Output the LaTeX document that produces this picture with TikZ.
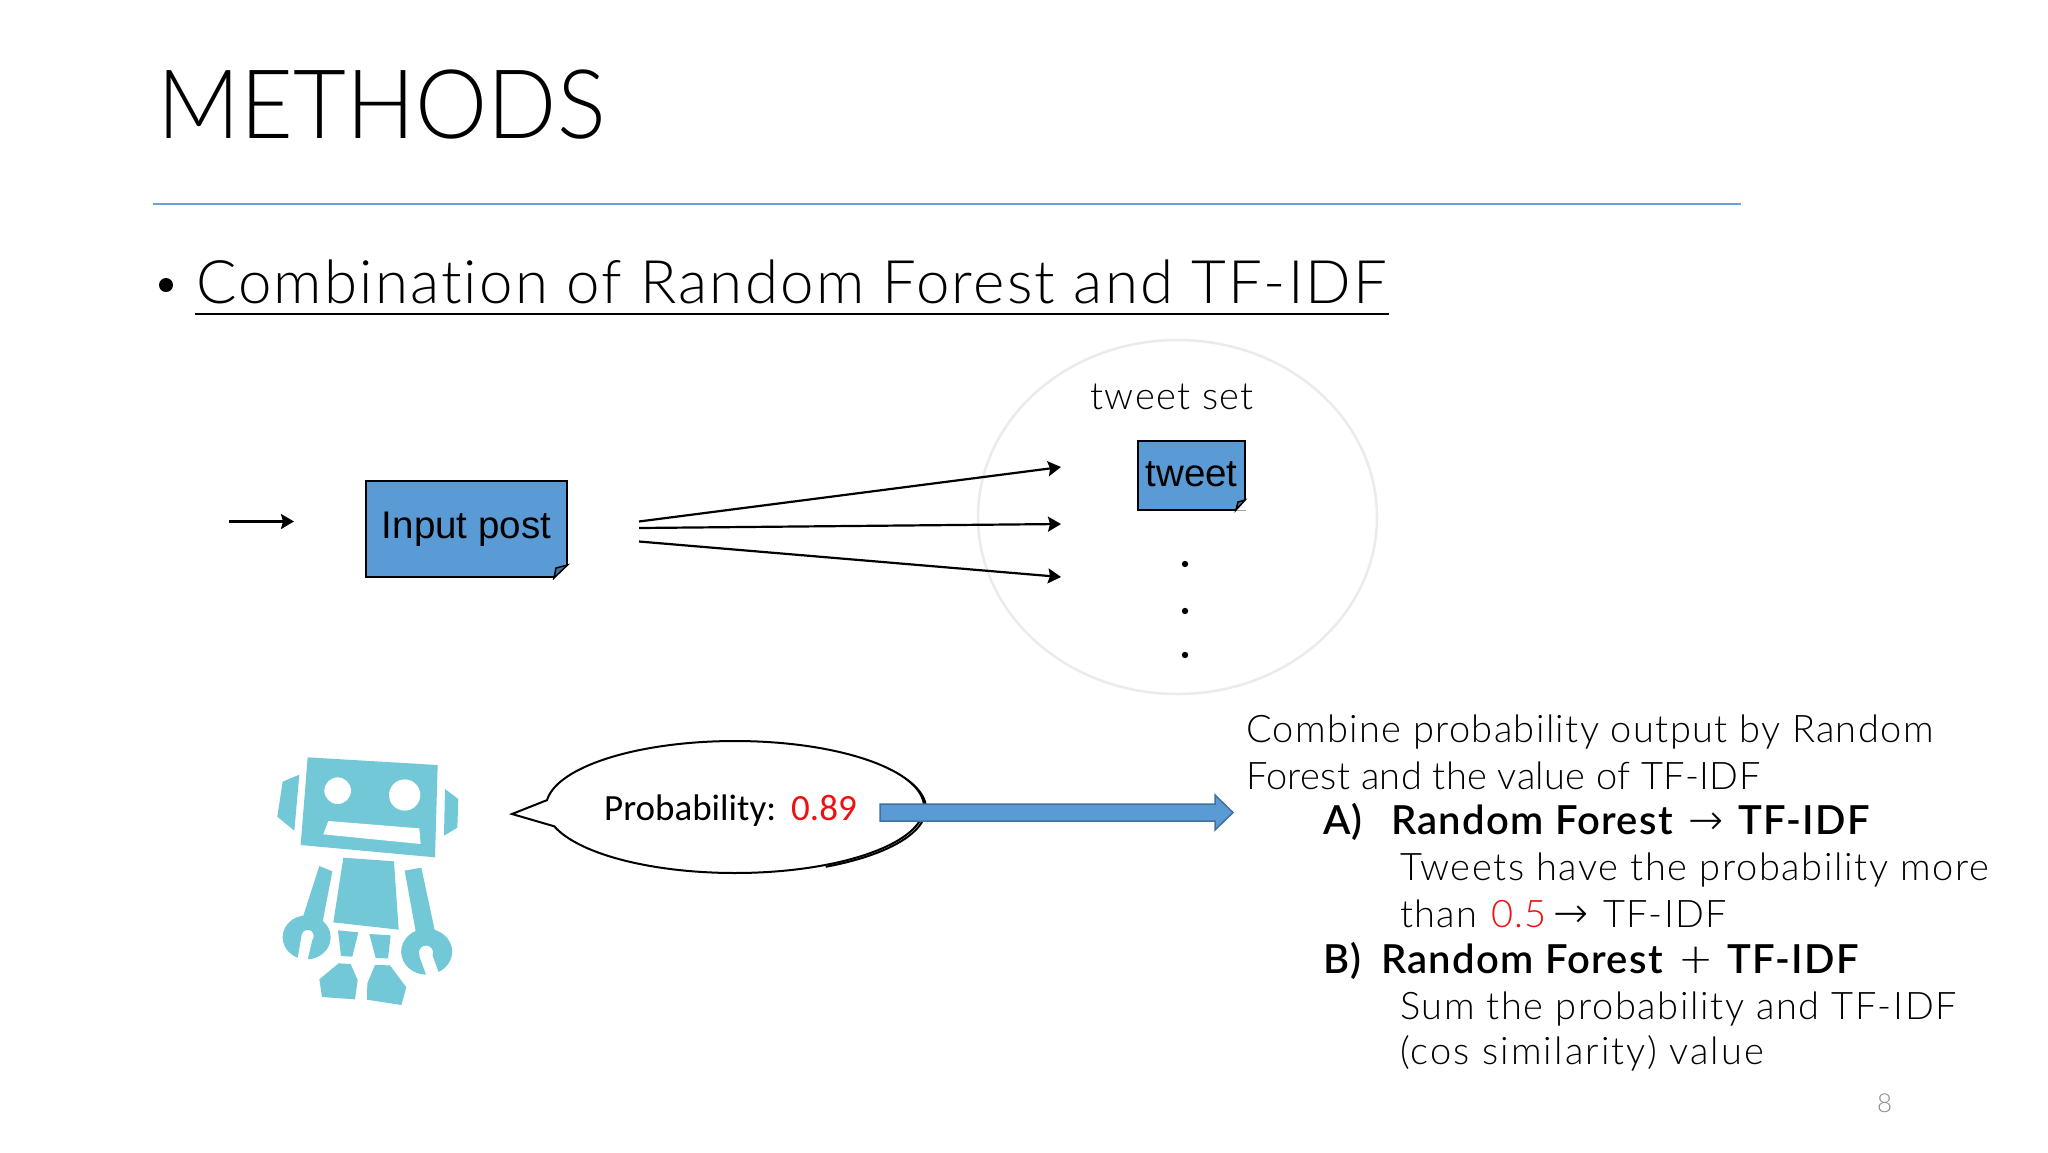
\documentclass[tikz,border=0pt]{standalone}
\usepackage{fontspec}
\usetikzlibrary{arrows.meta}
\setmainfont{Lato Light}
\newfontfamily\lt{Lato Light}[LetterSpace=3.6,Ligatures=NoCommon]
\newfontfamily\ltn{Lato Light}[LetterSpace=1.0,Ligatures=NoCommon]
\newfontfamily\ltw{Lato Light}[LetterSpace=4.3,Ligatures=NoCommon]
\newfontfamily\ltx{Lato Light}[LetterSpace=5.6,Ligatures=NoCommon]
\newfontfamily\ltt{Lato Light}[FakeStretch=0.95,LetterSpace=0.2]
\newfontfamily\ltb{Lato Semibold}[LetterSpace=3.3,Ligatures=NoCommon]
\newfontfamily\ar{Liberation Sans}
\newfontfamily\djv{DejaVu Sans ExtraLight}
\newfontfamily\cb{Carlito}
\definecolor{pblue}{HTML}{5B9BD5}
\definecolor{pedge}{HTML}{41719C}
\definecolor{rob}{HTML}{72C8D6}
\definecolor{rulec}{HTML}{6F9FD8}
\definecolor{pred}{HTML}{EE1111}
\tikzset{
  txt/.style={anchor=base west,inner sep=0pt,outer sep=0pt,font=\lt\fontsize{38}{38}\selectfont},
  txtn/.style={txt,font=\ltn\fontsize{38}{38}\selectfont},
  txtw/.style={txt,font=\ltw\fontsize{38}{38}\selectfont},
  txtx/.style={txt,font=\ltx\fontsize{38}{38}\selectfont},
  btxt/.style={anchor=base west,inner sep=0pt,outer sep=0pt,font=\ltb\fontsize{40}{40}\selectfont},
  sym/.style={anchor=base west,inner sep=0pt,outer sep=0pt,font=\djv\fontsize{42}{42}\selectfont},
  note/.style={draw=black,line width=2pt,fill=pblue,inner sep=0pt,outer sep=0pt,font=\ar\fontsize{38.5}{38.5}\selectfont},
  thin arrow/.style={draw=black,line width=2.2pt,-{Stealth[length=13pt,width=15pt,inset=2pt]}},
  rb/.style={fill=rob,draw=none},
  wh/.style={fill=white,draw=none}
}
\begin{document}
\begin{tikzpicture}[x=1pt,y=-1pt]
\useasboundingbox (0,0) rectangle (2048,1152);
\fill[white] (0,0) rectangle (2048,1152);

% title
\node[anchor=base west,inner sep=0pt,font=\ltt\fontsize{96}{96}\selectfont] (title) at (157,138) {METHODS};
\coordinate (ruleL) at (153,204); \coordinate (ruleR) at (1741,204);
\draw[rulec,line width=2pt] (ruleL) -- (ruleR);

% heading
\fill[black] (166,285) circle (7);
\node[anchor=base west,inner sep=0pt,font=\lt\fontsize{60}{60}\selectfont] (head) at (196,303) {Combination of Random Forest and TF-IDF};
\coordinate (ulL) at (195,314); \coordinate (ulR) at (1389,314);
\draw[black,line width=2pt] (ulL) -- (ulR);

% tweet-set ellipse
\draw[black!8,line width=2.5pt] (1177.5,517) ellipse [x radius=199.5pt,y radius=177pt];
\node[anchor=base,inner sep=0pt,font=\lt\fontsize{38}{38}\selectfont] (tset) at (1172,409) {tweet set};

% input post
\coordinate (small0) at (229,521.5); \coordinate (small1) at (294,521.5);
\draw[thin arrow] (small0) -- (small1);
\node[note,minimum width=201pt,minimum height=96pt] (input) at (466.5,529) {\raisebox{1pt}{Input post}};
\fill[white] (554,578.5) -- (568,578.5) -- (568,565) -- cycle;
\draw[black,line width=1.5pt,fill=pedge] (554,578) -- (567.5,565) -- (556,568) -- cycle;

% tweet
\node[note,minimum width=107pt,minimum height=69pt] (tweet) at (1191.5,475) {\raisebox{1pt}{tweet}};
\fill[white] (1236,510.5) -- (1246,510.5) -- (1246,500) -- cycle;
\draw[black,line width=1.5pt,fill=pedge] (1236,510) -- (1245,500) -- (1238,502) -- cycle;

% fan arrows
\coordinate (f1a) at (639,521.5); \coordinate (f1b) at (1061,467);
\coordinate (f2a) at (639,528); \coordinate (f2b) at (1061,524);
\coordinate (f3a) at (639,541.5); \coordinate (f3b) at (1061,577);
\draw[thin arrow] (f1a) -- (f1b);
\draw[thin arrow] (f2a) -- (f2b);
\draw[thin arrow] (f3a) -- (f3b);

% dots
\foreach \yy in {564,611,655} \fill[black] (1185,\yy) circle (3.2);

% robot
\begin{scope}[shift={(260,750)},x=0.33333pt,y=-0.33333pt]
\fill[rb] (143,22)--(533,45)--(525,322)--(122,285)--cycle;
\fill[wh] (233,122) circle [radius=13.3pt];
\fill[wh] (434,135) circle [radius=15.6pt];
\fill[wh] (205,213)--(478,235)--(482,282)--(190,253)--cycle;
\fill[rb] (118,74)--(68,95)--(52,200)--(103,242)--cycle;
\fill[rb] (555,117)--(595,147)--(592,233)--(552,257)--cycle;
\fill[rb] (250,323)--(402,334)--(416,539)--(220,517)--cycle;
\fill[rb] (178,348)--(217,364)--(188,515)--(130,497)--cycle;
\fill[rb] (434,362)--(484,353)--(524,540)--(470,560)--cycle;
\fill[rb] (140,562) ellipse [x radius=24pt,y radius=22pt];
\fill[wh] (125,555)--(160,555)--(142,632)--(112,632)--cycle;
\fill[wh] (143,558) circle [radius=6pt];
\fill[rb] (500,605) ellipse [x radius=25.5pt,y radius=23pt];
\fill[wh] (478,618)--(515,610)--(537,670)--(500,678)--cycle;
\fill[wh] (498,608) circle [radius=7pt];
\fill[rb] (234,541)--(295,547)--(277,620)--(243,618)--cycle;
\fill[rb] (328,552)--(392,556)--(384,625)--(347,624)--cycle;
\fill[rb] (236,640)--(272,642)--(293,690)--(285,748)--(186,741)--(178,688)--cycle;
\fill[rb] (345,645)--(390,646)--(439,712)--(424,765)--(321,749)--(322,700)--cycle;
\end{scope}

% speech bubble
\coordinate (tip) at (512,814);
\draw[black,line width=2pt,shift={(2,1.5)}] plot[domain=-60:62,samples=50] ({735+189*cos(\x)},{807+66*sin(\x)});
\draw[black,line width=2pt,fill=white] (tip) -- plot[domain=186:523,samples=140] ({735+189*cos(\x)},{807+66*sin(\x)}) -- cycle;
\node[anchor=base west,inner sep=0pt,font=\cb\fontsize{37}{37}\selectfont] (prob) at (604,820) {Probability:};
\node[anchor=base west,inner sep=0pt,text=pred,font=\cb\fontsize{37}{37}\selectfont] (pval) at (791,820) {0.89};

% block arrow
\draw[pedge,line width=1.5pt,fill=pblue] (880,804)--(1215,804)--(1215,795)--(1233,812.5)--(1215,830)--(1215,821)--(880,821)--cycle;

% right text
\node[txt] (l1) at (1246,742) {Combine probability output by Random};
\node[txtn] (l2) at (1246,789) {Forest and the value of TF-IDF};
\node[btxt] (a) at (1323,834) {A)};
\node[btxt] (a1) at (1391,834) {Random Forest};
\node[sym] (a2) at (1688,834) {→};
\node[btxt] (a3) at (1738,834) {TF-IDF};
\node[txtw] (l4) at (1400,880) {Tweets have the probability more};
\node[txt] (l5) at (1400,927) {than};
\node[txt,text=pred] (l5b) at (1491,927) {0.5};
\node[sym] (l5c) at (1553,927) {→};
\node[txt] (l5d) at (1603,927) {TF-IDF};
\node[btxt] (b) at (1323,973) {B)};
\node[btxt] (b1) at (1381,973) {Random Forest};
\node[sym] (b2) at (1678,973) {+};
\node[btxt] (b3) at (1727,973) {TF-IDF};
\node[txtw] (l7) at (1400,1019) {Sum the probability and TF-IDF};
\node[txtx] (l8) at (1400,1064) {(cos similarity) value};
\node[anchor=base west,inner sep=0pt,text=black!45,font=\lt\fontsize{26}{26}\selectfont] (pg) at (1877,1112) {8};
\end{tikzpicture}
\end{document}
